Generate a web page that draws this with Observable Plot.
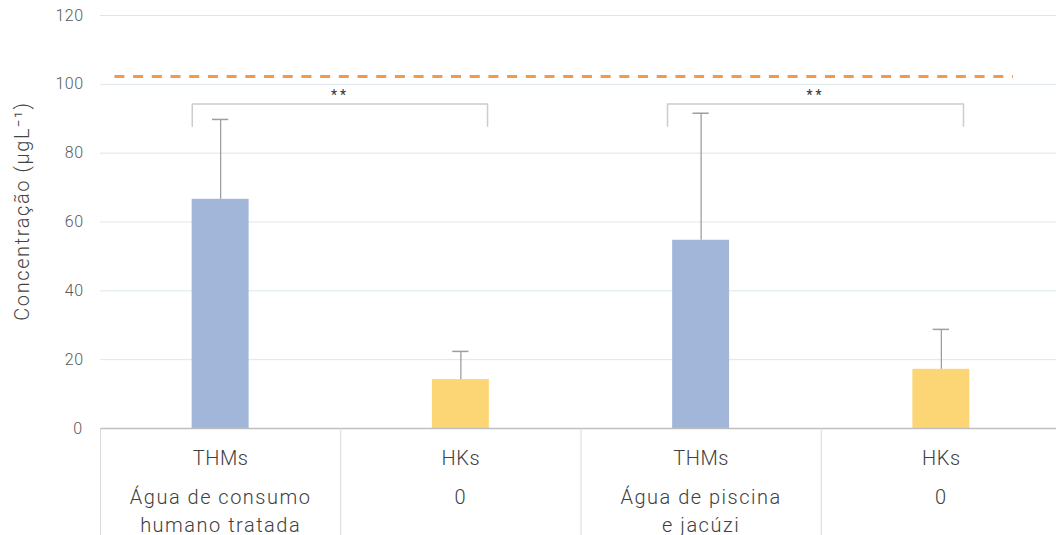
<!DOCTYPE html>
<html>
<head>
<meta charset="utf-8">
<script src="https://cdn.jsdelivr.net/npm/d3@7"></script>
<script src="https://cdn.jsdelivr.net/npm/@observablehq/plot@0.6"></script>
<style>
  html, body { margin: 0; padding: 0; background: #fff; }
  #chart svg { display: block; }
</style>
</head>
<body>
<div id="chart"></div>
<script>
// ---- data ----
const categories = ["THMs", "HKs", "THMs", "HKs"];
const groupLabels = ["Água de consumo\nhumano tratada", "0", "Água de piscina\ne jacúzi", "0"];
const means = [66.6, 14.2, 54.7, 17.2];
const upperErrors = [89.8, 22.4, 91.6, 28.8];
const yTicks = [0, 20, 40, 60, 80, 100, 120];
const yLabel = "Concentração (µgL⁻¹)";
const limitValue = 102.3;
const limitFrom = 0.06;
const limitTo = 3.8;
const brackets = [
  {x1: 0.382, x2: 1.611, top: 94.3, leg: 87.8, text: "**"},
  {x1: 2.360, x2: 3.592, top: 94.3, leg: 87.8, text: "**"}
];
const colors = ["#a1b6d8", "#fcd674", "#a1b6d8", "#fcd674"];

// ---- derived table ----
const barFrac = 0.237;
const rows = categories.map((c, i) => ({
  i, cat: c, group: groupLabels[i], mean: means[i], upper: upperErrors[i], color: colors[i]
}));
const bracketPts = brackets.flatMap((b, k) => [
  {k, x: b.x1, y: b.leg}, {k, x: b.x1, y: b.top}, {k, x: b.x2, y: b.top}, {k, x: b.x2, y: b.leg}
]);
const bracketText = brackets.map(b => ({x: (b.x1 + b.x2) / 2, y: b.top, text: b.text}));

const chart = Plot.plot({
  width: 1056,
  height: 535,
  marginTop: 15,
  marginBottom: 107,
  marginLeft: 100,
  marginRight: 0,
  style: {fontFamily: "Roboto", fontSize: "16px", fontWeight: 300, color: "#444", background: "#fff"},
  x: {type: "linear", domain: [0, 4], range: [100, 1061], axis: null},
  y: {domain: [0, 120], axis: null},
  marks: [
    Plot.gridY(yTicks.filter(d => d > 0), {stroke: "#dce7ed", strokeOpacity: 1, strokeWidth: 1}),
    Plot.axisY(yTicks, {tickSize: 0, tickPadding: 17, fontSize: 16, fill: "#595959", label: null}),
    Plot.text([yLabel], {frameAnchor: "left", textAnchor: "middle", rotate: -90, dx: -78, dy: -11, fontSize: 20, fill: "#444"}),
    Plot.ruleY([limitValue], {x1: limitFrom, x2: limitTo, stroke: "#f4994a", strokeWidth: 3, strokeDasharray: "10,8.7"}),
    Plot.rectY(rows, {
      x1: d => d.i + 0.5 - barFrac / 2, x2: d => d.i + 0.5 + barFrac / 2,
      y1: 0, y2: "mean", fill: "color"
    }),
    Plot.ruleX(rows, {x: d => d.i + 0.5, y1: "mean", y2: "upper", stroke: "#9e9e9e", strokeWidth: 1.3}),
    Plot.ruleY(rows, {x1: "i", x2: d => d.i + 1, y: "upper", insetLeft: 112, insetRight: 112, stroke: "#9e9e9e", strokeWidth: 1.5}),
    Plot.line(bracketPts, {x: "x", y: "y", z: "k", stroke: "#cccccc", strokeWidth: 1.5, strokeLinejoin: "round"}),
    Plot.text(bracketText, {x: "x", y: "y", text: "text", dy: -8, fontSize: 14, fill: "#333", fontWeight: 400}),
    Plot.ruleY([0], {stroke: "#bfbfbf", strokeWidth: 1.5}),
    Plot.ruleX(rows, {x: "i", y1: 0, y2: -31.2, stroke: "#d9d9d9", strokeWidth: 1}),
    Plot.text(rows, {x: d => d.i + 0.5, y: 0, text: "cat", dy: 30, fontSize: 20, fill: "#404040"}),
    Plot.text(rows, {x: d => d.i + 0.5, y: 0, text: "group", dy: 56, lineAnchor: "top", lineHeight: 1.4, fontSize: 20, fill: "#404040"})
  ]
});
document.getElementById("chart").appendChild(chart);

// letter spacing tweaks (text styling only)
const groupText = new Set(groupLabels.map(s => s.replace(/\n/g, "")));
d3.select(chart).selectAll("text").each(function () {
  const t = this.textContent;
  let ls = null;
  if (t === yLabel) ls = "1.6px";
  else if (t === "**") ls = "3px";
  else if (categories.includes(t)) ls = "0.6px";
  else if (groupText.has(t)) ls = "1.5px";
  else if (/^\d+$/.test(t)) ls = "0.5px";
  if (ls) this.style.letterSpacing = ls;
});
</script>
</body>
</html>
